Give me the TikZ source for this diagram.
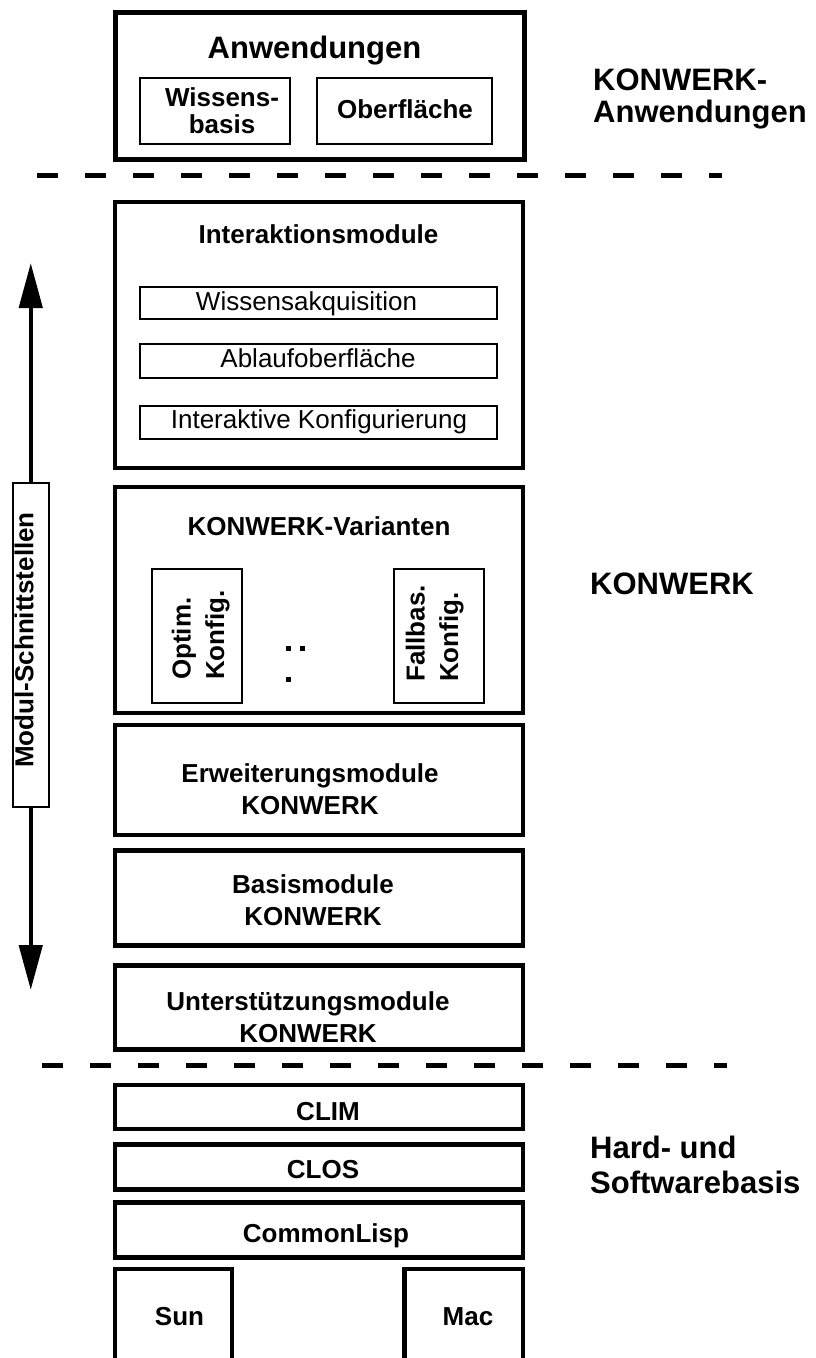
\documentclass[tikz,border=0pt]{standalone}
\usepackage{fontspec}
\setmainfont{Liberation Sans}
\usetikzlibrary{arrows.meta,fit}
\begin{document}
\begin{tikzpicture}[x=1pt,y=-1pt,
  big/.style={draw, line width=4.5pt, inner sep=0pt},
  small/.style={draw, line width=2pt, inner sep=0pt},
  bl/.style={font=\fontsize{26}{32}\selectfont\bfseries, inner sep=0pt, anchor=base, align=center},
  rl/.style={font=\fontsize{26}{32}\selectfont, inner sep=0pt, anchor=base, align=center},
  side/.style={font=\fontsize{31}{32}\selectfont\bfseries, inner sep=0pt, anchor=base west, align=left},
  dashline/.style={line width=5pt, dash pattern=on 21pt off 27pt},
  arr/.style={line width=4.5pt, -{Triangle[length=45pt,width=23pt]}},
  dotm/.style={fill=black}
]
\useasboundingbox (0,0) rectangle (816,1358);

% ---- Anwendungen
\node[big, fit={(115.5,12.5) (524.5,159.5)}] (anw) {};
\node[bl, font=\fontsize{31}{32}\selectfont\bfseries] (tanw) at (314.5,58) {Anwendungen};
\node[small, fit={(140,78) (290,144)}] (wb) {};
\node[bl, font=\fontsize{26}{27}\selectfont\bfseries] (twb) at (222,133) {Wissens-\\basis};
\node[small, fit={(317,78) (492,144)}] (ob) {};
\node[bl] (tob) at (405,118) {Oberfläche};

% ---- dashed line 1
\coordinate (d1a) at (37,175);
\coordinate (d1b) at (722,175);
\draw[dashline] (d1a) -- (d1b);

% ---- Interaktionsmodule
\node[big, fit={(115,202) (523,468)}] (inter) {};
\node[bl] (tinter) at (318.5,243) {Interaktionsmodule};
\node[small, fit={(140,287) (497,319)}] (wa) {};
\node[rl] (twa) at (306.5,310) {Wissensakquisition};
\node[small, fit={(140,344) (497,378)}] (ab) {};
\node[rl] (tab) at (318,367) {Ablaufoberfläche};
\node[small, fit={(140,406) (497,439)}] (ik) {};
\node[rl] (tik) at (319,428) {Interaktive Konfigurierung};

% ---- KONWERK-Varianten
\node[big, fit={(115,487) (523,713)}] (var) {};
\node[bl] (tvar) at (319,535) {KONWERK-Varianten};
\node[small, fit={(152,569) (242,703)}] (opt) {};
\node[bl, font=\fontsize{26}{33.5}\selectfont\bfseries, align=left, anchor=base west, rotate=90] (topt) at (224,680) {Optim.\\Konfig.};
\node[small, fit={(394,569) (484,703)}] (fb) {};
\node[bl, font=\fontsize{26}{33.5}\selectfont\bfseries, align=left, anchor=base west, rotate=90] (tfb) at (458,682) {Fallbas.\\Konfig.};
\fill[dotm] (285.5,646) rectangle (290.5,651);
\fill[dotm] (300,646) rectangle (305,651);
\fill[dotm] (285.5,677) rectangle (290.5,682);

% ---- Erweiterungsmodule
\node[big, fit={(115,725) (523,835)}] (erw) {};
\node[bl] (terw) at (310,814) {Erweiterungsmodule\\KONWERK};

% ---- Basismodule
\node[big, fit={(115,850.5) (523,945.5)}] (bas) {};
\node[bl] (tbas) at (313,925) {Basismodule\\KONWERK};

% ---- Unterstuetzungsmodule
\node[big, fit={(115,965.5) (523,1049.5)}] (unt) {};
\node[bl] (tunt) at (308,1042) {Unterstützungsmodule\\KONWERK};

% ---- dashed line 2
\coordinate (d2a) at (42,1065);
\coordinate (d2b) at (727,1065);
\draw[dashline] (d2a) -- (d2b);

% ---- Hard- und Softwarebasis
\node[big, fit={(115,1085) (523,1129)}] (clim) {};
\node[bl] (tclim) at (328,1120) {CLIM};
\node[big, fit={(115,1144.5) (523,1189.5)}] (clos) {};
\node[bl] (tclos) at (323,1178) {CLOS};
\node[big, fit={(115,1202.5) (523,1257.5)}] (cl) {};
\node[bl] (tcl) at (326,1242) {CommonLisp};
\node[big, fit={(115,1269) (232,1375)}] (sun) {};
\node[bl] (tsun) at (179.5,1325) {Sun};
\node[big, fit={(404.5,1269) (523,1375)}] (mac) {};
\node[bl] (tmac) at (468,1325) {Mac};

% ---- Modul-Schnittstellen
\node[small, fit={(12.5,483) (49,807)}] (mod) {};
\node[bl, rotate=90] (tmod) at (33.3,640) {Modul-Schnittstellen};
\coordinate (uptip) at (30.75,263);
\coordinate (dntip) at (30.75,990);
\draw[arr] (mod.north) -- (uptip);
\draw[arr] (mod.south) -- (dntip);

% ---- side labels
\node[side] (sanw) at (593,122) {KONWERK-\\Anwendungen};
\node[side] (skon) at (590,594) {KONWERK};
\node[side, font=\fontsize{31}{35}\selectfont\bfseries] (shw) at (590,1193) {Hard- und\\Softwarebasis};
\end{tikzpicture}
\end{document}
